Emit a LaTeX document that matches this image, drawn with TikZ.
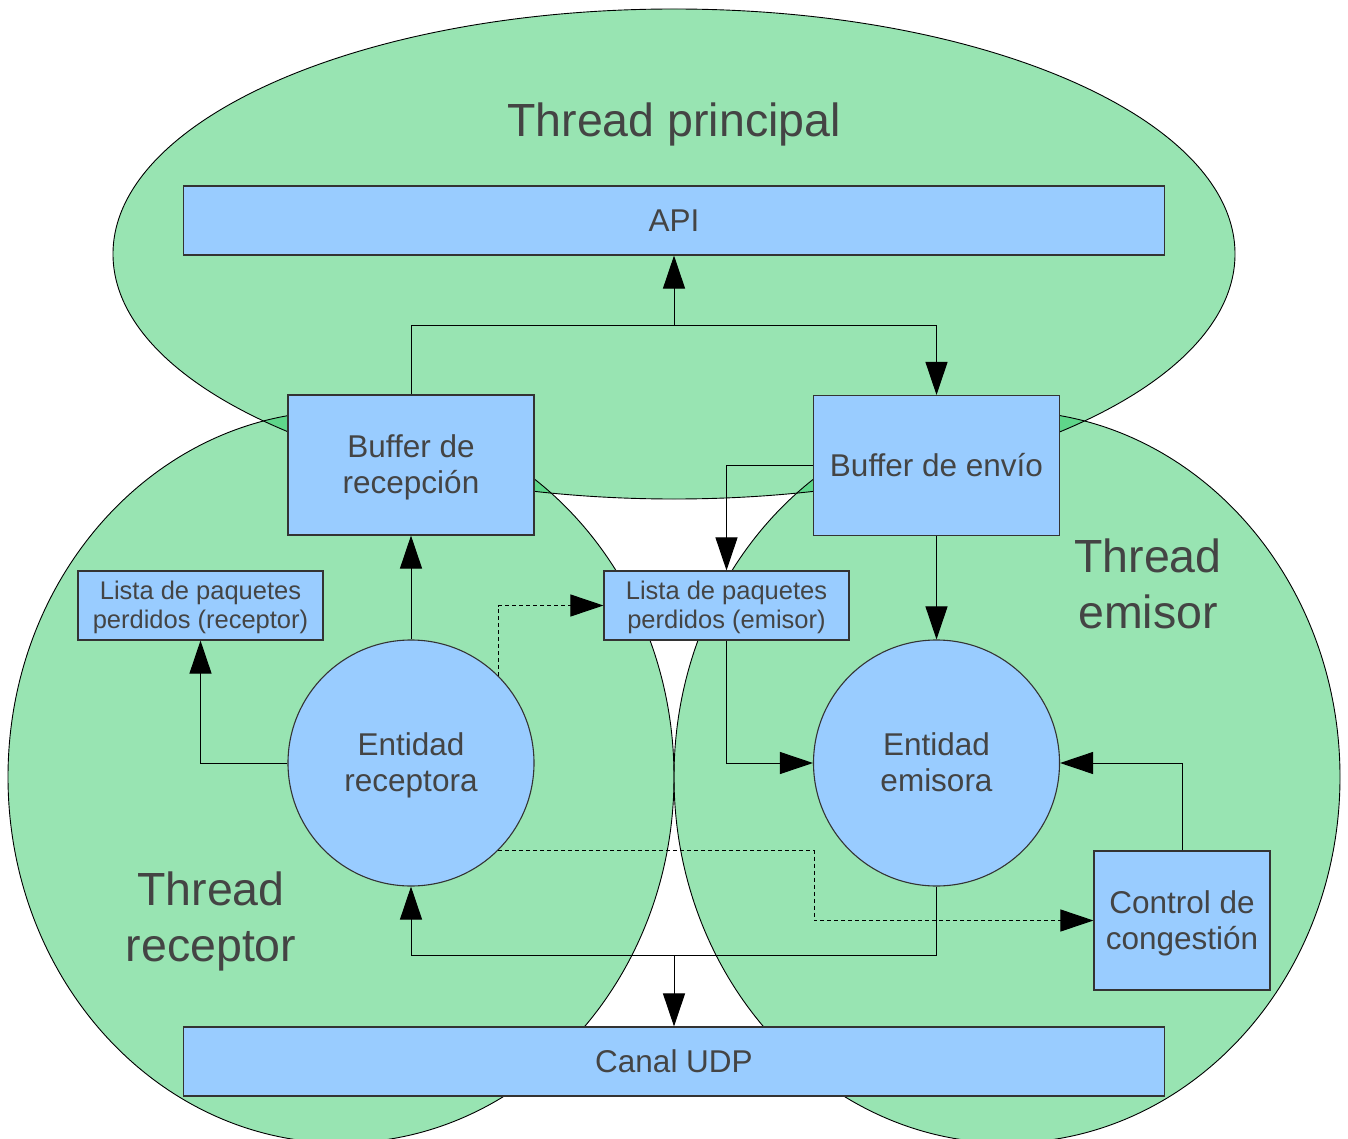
\documentclass[tikz,border=0pt]{standalone}
\usepackage{fontspec}
\setmainfont{Liberation Sans}
\usetikzlibrary{arrows.meta}

\definecolor{threadgreen}{HTML}{98E4B2}
\definecolor{overlapgreen}{HTML}{5FD68A}
\definecolor{boxblue}{HTML}{99CCFF}
\definecolor{boxline}{HTML}{333333}
\definecolor{labeltext}{HTML}{444444}

% line strut with the font's ascent and descent, so text centres like a line box
\newcommand\linestrut{\rule[-0.212em]{0pt}{1.117em}}
% strut reaching the top of the first line of a two-line label
\newcommand\twolinestrut{\rule{0pt}{\dimexpr 0.905em + \baselineskip\relax}}

\begin{document}
\begin{tikzpicture}[x=1pt,y=-1pt,
  strutted/.style={execute at begin node=\linestrut, execute at end node=\linestrut},
  twolines/.style={execute at begin node=\twolinestrut},
  box/.style={draw=boxline, line width=1.1pt, fill=boxblue, inner sep=0pt,
    text=labeltext, align=center, font=\fontsize{31.5}{36}\selectfont, strutted},
  widebox/.style={box, minimum width=981pt, minimum height=69pt},
  bufbox/.style={box, minimum width=246pt, minimum height=140pt},
  listbox/.style={box, twolines, minimum width=245pt, minimum height=69pt,
    font=\fontsize{25.5}{29}\selectfont},
  entity/.style={box, twolines, circle, minimum size=246pt},
  threadlabel/.style={text=labeltext, align=center,
    font=\fontsize{46.5}{56}\selectfont, strutted},
  flow/.style={draw=black, line width=1pt, -{Triangle[length=33pt,width=22pt]}},
  hint/.style={flow, dash pattern=on 4pt off 3pt},
  region/.style={draw=black, line width=0.9pt},
]
\useasboundingbox (0,0) rectangle (1348,1139);

% thread regions
\fill[threadgreen] (674,254) ellipse [x radius=561pt, y radius=245pt];
\fill[threadgreen] (341,777) ellipse [x radius=333pt, y radius=366pt];
\fill[threadgreen] (1007,777) ellipse [x radius=333pt, y radius=366pt];
\begin{scope}
  \clip (674,254) ellipse [x radius=561pt, y radius=245pt];
  \fill[overlapgreen] (341,777) ellipse [x radius=333pt, y radius=366pt];
  \fill[overlapgreen] (1007,777) ellipse [x radius=333pt, y radius=366pt];
\end{scope}
\draw[region] (674,254) ellipse [x radius=561pt, y radius=245pt];
\draw[region] (341,777) ellipse [x radius=333pt, y radius=366pt];
\draw[region] (1007,777) ellipse [x radius=333pt, y radius=366pt];

% thread names
\node[threadlabel] (tmain) at (674,120) {Thread principal};
\node[threadlabel, twolines] (tsend) at (1148,584) {Thread\\emisor};
\node[threadlabel, twolines] (trecv) at (211,917) {Thread\\receptor};

% components
\node[widebox] (api) at (674,220.5) {API};
\node[bufbox, twolines] (recbuf) at (411,465) {Buffer de\\recepción};
\node[bufbox] (sendbuf) at (936.5,465.5) {Buffer de envío};
\node[listbox] (reclist) at (200.5,605.5) {Lista de paquetes\\perdidos (receptor)};
\node[listbox] (sendlist) at (726.5,605.5) {Lista de paquetes\\perdidos (emisor)};
\node[entity] (recent) at (411,763) {Entidad\\receptora};
\node[entity] (sendent) at (936.5,763) {Entidad\\emisora};
\node[box, twolines, minimum width=176pt, minimum height=139pt] (cong) at (1182,920.5) {Control de\\congestión};
\node[widebox] (udp) at (674,1061.5) {Canal UDP};

% junctions
\coordinate (apijoin) at (674,325);
\coordinate (udpjoin) at (674,955);
\coordinate (congbend) at (814,920.5);

% data flow
\draw[flow] (recbuf.north) |- (apijoin) -- (api.south);
\draw[flow] (apijoin) -| (sendbuf.north);
\draw[flow] (recent.north) -- (recbuf.south);
\draw[flow] (recent.west) -| (reclist.south);
\draw[hint] (recent.45) |- (sendlist.west);
\draw[flow] (sendbuf.west) -| (sendlist.north);
\draw[flow] (sendlist.south) |- (sendent.west);
\draw[flow] (sendbuf.south) -- (sendent.north);
\draw[flow] (cong.north) |- (sendent.east);
\draw[hint] (recent.-45) -| (congbend) -- (cong.west);
\draw[flow] (sendent.south) |- (udpjoin) -| (recent.south);
\draw[flow] (udpjoin) -- (udp.north);
\end{tikzpicture}
\end{document}
